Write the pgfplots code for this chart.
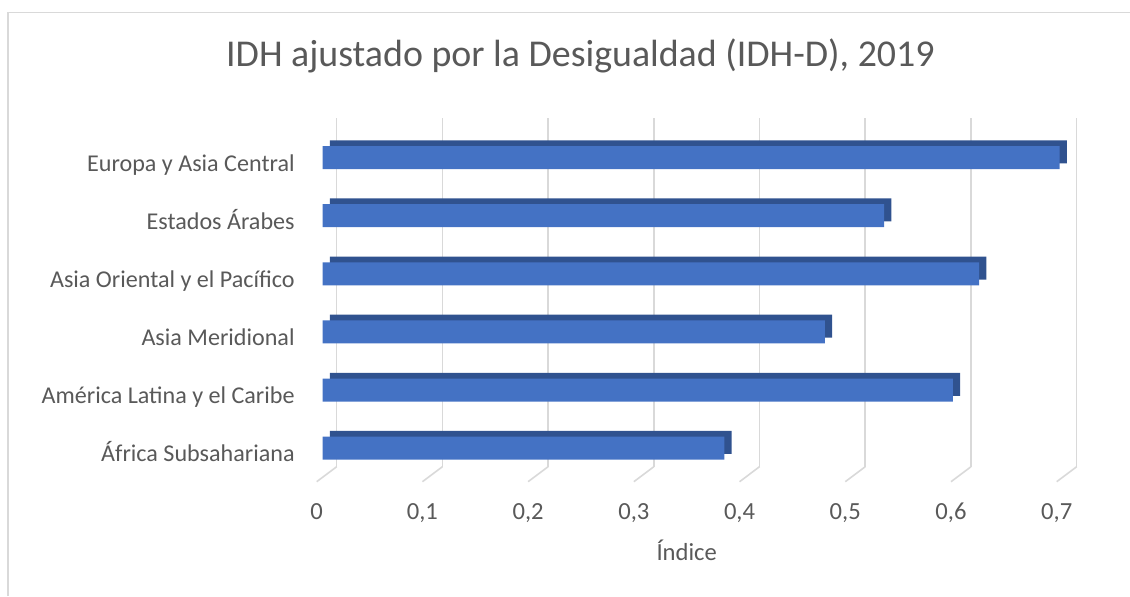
\documentclass[border=0pt]{standalone}
\usepackage{fontspec}
\setmainfont{Carlito}
\usepackage{pgfplots}
\pgfplotsset{compat=1.18}

\definecolor{barfront}{HTML}{4472C4}
\definecolor{bardark}{HTML}{30528F}
\definecolor{gridgray}{HTML}{D9D9D9}
\definecolor{txtgray}{HTML}{595959}

\begin{document}
\begin{tikzpicture}
\begin{axis}[
  at={(0,0)}, anchor=south west,
  scale only axis,
  width=370pt, height=174.35pt,
  xmin=0, xmax=0.7,
  ymin=-0.5, ymax=5.5,
  clip=false,
  axis line style={draw=none},
  major tick length=0pt,
  xmajorgrids,
  grid style={gridgray, line width=0.8pt},
  xtick={0,0.1,0.2,0.3,0.4,0.5,0.6,0.7},
  xticklabels={0,{0,1},{0,2},{0,3},{0,4},{0,5},{0,6},{0,7}},
  xticklabel style={anchor=base, inner sep=0pt, yshift=-26.3pt, xshift=-10pt,
                    font=\fontsize{12.3}{14}\selectfont, text=txtgray},
  ytick={0,1,2,3,4,5},
  yticklabels={África Subsahariana, América Latina y el Caribe, Asia Meridional,
               Asia Oriental y el Pacífico, Estados Árabes, Europa y Asia Central},
  yticklabel style={anchor=base east, inner sep=0pt, xshift=-20.85pt, yshift=-12.1pt,
                    font=\fontsize{12.05}{14}\selectfont, text=txtgray},
  xlabel={Índice},
  xlabel style={at={(axis description cs:0.5,0)}, anchor=base, inner sep=0pt,
                yshift=-46.65pt, xshift=-10pt,
                font=\fontsize{12.3}{14}\selectfont, text=txtgray},
  title={IDH ajustado por la Desigualdad (IDH-D), 2019},
  title style={at={(axis description cs:0.5,1)}, anchor=base, inner sep=0pt,
               yshift=19.85pt, xshift=-63.1pt,
               font=\fontsize{18.95}{22}\selectfont, text=txtgray},
]
% slanted floor ticks
\addplot[quiver={u=-0.0189, v=-0.258}, draw=gridgray, line width=0.8pt, no markers]
  coordinates {(0,-0.5) (0.1,-0.5) (0.2,-0.5) (0.3,-0.5) (0.4,-0.5) (0.5,-0.5) (0.6,-0.5) (0.7,-0.5)};
% depth of the bars
\addplot[xbar, bar width=11.5pt, fill=bardark, draw=none, xshift=-3.35pt, yshift=-2.4pt]
  coordinates {(0.380,0) (0.596,1) (0.475,2) (0.621,3) (0.531,4) (0.697,5)};
% front faces
\addplot[xbar, bar width=11.5pt, fill=barfront, draw=none, xshift=-7pt, yshift=-5.25pt]
  coordinates {(0.380,0) (0.596,1) (0.475,2) (0.621,3) (0.531,4) (0.697,5)};
\end{axis}
\draw[gridgray, line width=0.75pt] (-164.35pt,-64.65pt) -- (-164.35pt,227.1pt) -- (396.65pt,227.1pt);
\pgfresetboundingbox
\path[use as bounding box] (-168.35pt,-64.65pt) rectangle (396.65pt,233.35pt);
\end{tikzpicture}
\end{document}
